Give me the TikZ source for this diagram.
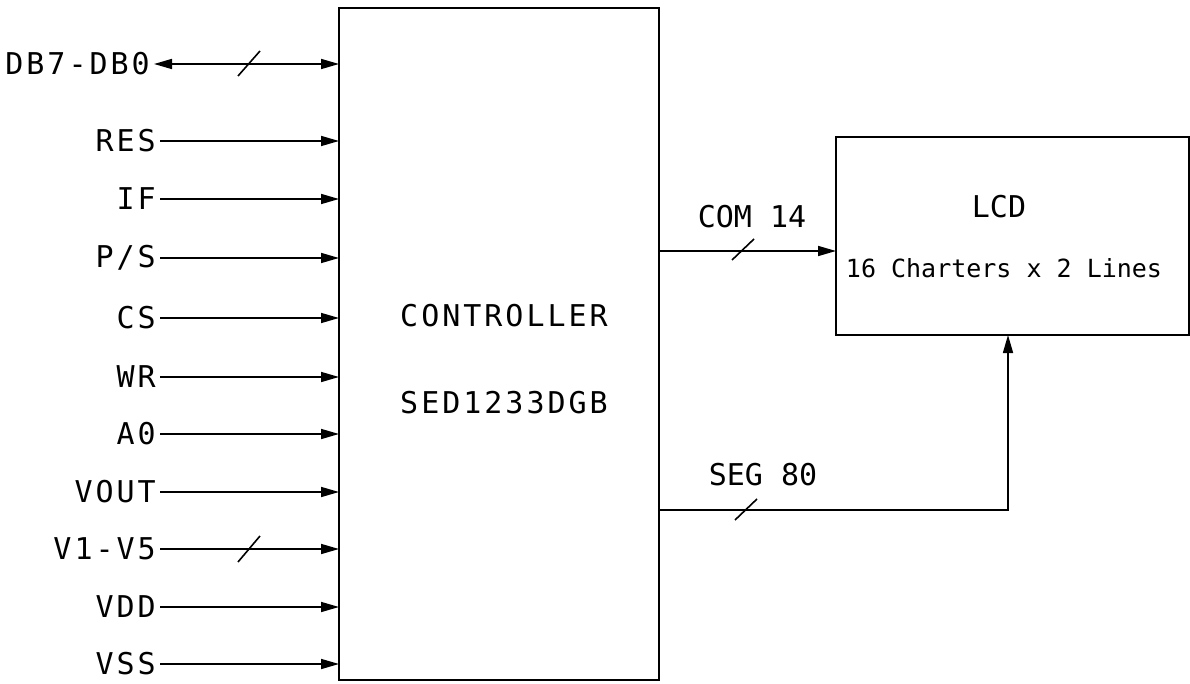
\documentclass[tikz,border=0pt]{standalone}
\usepackage{fontspec}
\newfontfamily\cadfont{DejaVu Sans Mono}
\newfontfamily\cadwide{DejaVu Sans Mono}[LetterSpace=10]
\usetikzlibrary{arrows.meta}
\tikzset{
  box/.style={draw, line width=1.6pt},
  lbl/.style={font=\cadwide\fontsize{30}{30}\selectfont, inner sep=0pt, anchor=east},
  txt/.style={font=\cadfont\fontsize{30}{30}\selectfont, inner sep=0pt},
  widetxt/.style={font=\cadwide\fontsize{30}{30}\selectfont, inner sep=0pt},
  tip/.tip={Triangle[length=18pt,width=10pt]},
  sig/.style={line width=1.6pt, -tip},
  slash/.style={line width=1.6pt}
}
\begin{document}
\begin{tikzpicture}[x=1pt,y=-1pt]
\useasboundingbox (0,0) rectangle (1190,684);
% boxes
\draw[box] (339,8) rectangle (659,680);
\coordinate (ctrlW) at (339,0);
\node[widetxt] (ctrl1) at (504,316) {CONTROLLER};
\node[widetxt] (ctrl2) at (504,403) {SED1233DGB};
\draw[box] (836,137) rectangle (1189,335);
\coordinate (lcdW) at (836,0);
\coordinate (lcdS) at (0,335);
\node[txt] (lcd1) at (999,207) {LCD};
\node[txt, font=\cadfont\fontsize{25}{25}\selectfont] (lcd2) at (1004,268) {16 Charters x 2 Lines};
% inputs
\foreach \name/\y/\t in {res/141/RES, if/199/IF, cs/318/CS, wr/377/WR, a0/434/A0, vout/492/VOUT, vdd/607/VDD, vss/664/VSS}{
  \node[lbl] (\name) at (156,\y) {\t};
  \draw[sig] (\name.east) ++(4,0) -- (\name.east -| ctrlW);
}
\node[lbl] (ps) at (156,258) {P/S};
\draw[sig] (ps.east) ++(4,0) -- (ps.east -| ctrlW);
\node[lbl] (db) at (150,64) {DB7-DB0};
\draw[sig, tip-tip] (db.east) ++(4,0) -- (db.east -| ctrlW);
\draw[slash] (238,76) -- (260,51);
\node[lbl] (v15) at (156,549) {V1-V5};
\draw[sig] (v15.east) ++(4,0) -- (v15.east -| ctrlW);
\draw[slash] (238,562) -- (260,536);
% outputs
\coordinate (comS) at (659,251);
\draw[sig] (comS) -- (comS -| lcdW);
\draw[slash] (732,260) -- (754,239);
\node[txt] (com) at (752,217) {COM 14};
\coordinate (segS) at (659,510);
\coordinate (segC) at (1008,510);
\draw[sig] (segS) -- (segC) -- (segC |- lcdS);
\draw[slash] (735,520) -- (757,499);
\node[txt] (seg) at (763,475) {SEG 80};
\end{tikzpicture}
\end{document}
